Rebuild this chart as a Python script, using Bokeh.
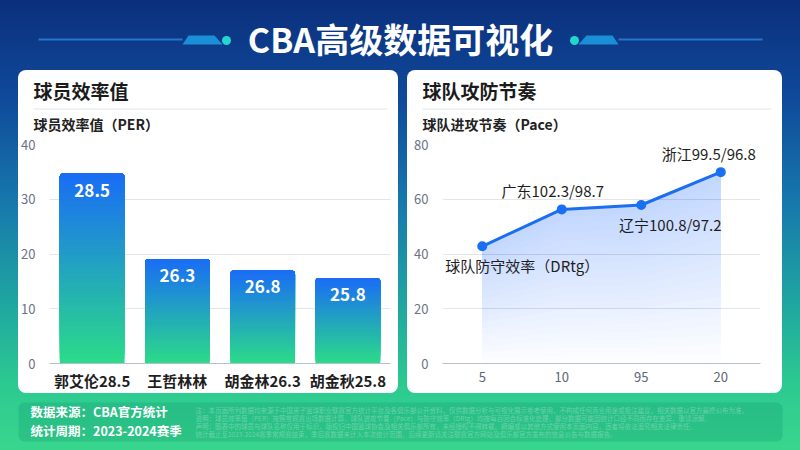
import numpy as np
from bokeh.plotting import figure
from bokeh.models import Range1d, FactorRange, FixedTicker, Spacer, Label
from bokeh.layouts import column, row
from bokeh.embed import file_html
from bokeh.resources import INLINE
from bokeh.core.properties import value

# ---------------- data ----------------
TITLE = "CBA高级数据可视化"
LEFT_TITLE = "球员效率值"
LEFT_SUB = "球员效率值（PER）"
RIGHT_TITLE = "球队攻防节奏"
RIGHT_SUB = "球队进攻节奏（Pace）"

PLAYERS = ["郭艾伦28.5", "王哲林林", "胡金林26.3", "胡金秋25.8"]
PER_BAR = [34.7, 19.1, 17.0, 15.6]
PER_LABELS = ["28.5", "26.3", "26.8", "25.8"]
PER_TICKS = [0, 10, 20, 30, 40]

PACE_X = ["5", "10", "95", "20"]
PACE_Y = [42.8, 56.3, 57.9, 69.9]
PACE_LABELS = ["球队防守效率（DRtg）", "广东102.3/98.7", "辽宁100.8/97.2", "浙江99.5/96.8"]
PACE_TICKS = [0, 20, 40, 60, 80]

FOOT_1 = "数据来源：CBA官方统计"
FOOT_2 = "统计周期：2023-2024赛季"
FINE_PRINT = [
    "注：本页面所列数据均来源于中国男子篮球职业联赛官方统计平台及各俱乐部公开资料，仅供数据分析与可视化展示参考使用，不构成任何商业用途或投注建议，相关数据以官方最终公布为准。",
    "说明：球员效率值（PER）按照常规赛出场数据计算，球队进攻节奏（Pace）与防守效率（DRtg）均按每百回合标准化处理，部分数据可能因统计口径不同而存在差异，敬请谅解。",
    "声明：图表中的球员与球队名称仅用于标识，版权归中国篮球协会及相关俱乐部所有，未经授权不得转载、摘编或以其他方式使用本页面内容，违者将依法追究相关法律责任。",
    "统计截止至2023-2024赛季常规赛结束，季后赛数据未计入本次统计范围，后续更新请关注联赛官方网站及俱乐部官方发布的信息公告与数据报告。",
]

# ---------------- style / layout (not data) ----------------
FONT = "Noto Sans CJK SC"
LABEL_DX = [40, -9, 29, -12]
LABEL_DY = [19, -19, 20, -19]
BLUE = np.array([0x1A, 0x6E, 0xF4])
GREEN = np.array([0x2B, 0xDA, 0x8A])
HEAD_H = 64
CHART_H = 259
TOP_PAD = 10
FRAME_H = 219
TOP_STYLE = {"border-radius": "8px 8px 0 0", "overflow": "hidden", "background-color": "white"}
BOT_STYLE = {"border-radius": "0 0 8px 8px", "overflow": "hidden", "background-color": "white"}


def hexc(c):
    c = np.clip(np.round(c), 0, 255).astype(int)
    return "#%02x%02x%02x" % tuple(c)


def blank(w, h):
    p = figure(width=w, height=h, x_range=Range1d(0, w), y_range=Range1d(h, 0),
               output_backend="svg", toolbar_location=None,
               x_axis_location=None, y_axis_location=None, min_border=0)
    p.grid.visible = False
    p.outline_line_color = None
    p.outline_line_alpha = 0
    p.background_fill_color = None
    p.border_fill_color = None
    return p


def txt(p, x, y, s, size, color, style="normal", align="left", alpha=1.0):
    p.add_layout(Label(x=x, y=y, text=s, text_font=FONT, text_font_size=size,
                       text_color=color, text_font_style=style, text_align=align,
                       text_baseline="middle", text_alpha=alpha))


# ---------------- page header ----------------
hdr = blank(800, 70)
hdr.segment(x0=[38, 618], y0=[39, 39], x1=[182, 762], y1=[39, 39],
            line_color="#2f8fe8", line_width=2, line_alpha=0.7)
hdr.patches(xs=[[182, 188, 214, 222], [578, 586, 612, 618]],
            ys=[[44, 35, 35, 44], [44, 35, 35, 44]],
            fill_color=["#1c98e0", "#1c98e0"], fill_alpha=0.9, line_color=None)
hdr.scatter(x=[226, 574], y=[40, 40], size=9, fill_color="#22d6cf", line_color=None)
txt(hdr, 400, 38, TITLE, "34px", "white", "bold", "center")


# ---------------- card headers ----------------
def card_head(w, title, sub):
    p = blank(w, HEAD_H)
    txt(p, 15, 20, title, "19px", "#1b1b1b", "bold")
    p.segment(x0=[15], y0=[38.5], x1=[w - 11], y1=[38.5], line_color="#e3e6ec", line_width=1)
    txt(p, 15, 53.5, sub, "14px", "#222222", "bold")
    return column(p, styles=TOP_STYLE)


def style_chart(p, ticks, xsize, xcolor, xstyle, standoff):
    p.outline_line_color = None
    p.outline_line_alpha = 0
    p.outline_line_width = 0
    p.background_fill_color = None
    p.border_fill_color = None
    p.xgrid.visible = False
    t = FixedTicker(ticks=ticks)
    p.yaxis.ticker = t
    p.ygrid.ticker = t
    p.ygrid.grid_line_color = "#e2e5ec"
    p.yaxis.axis_line_color = None
    p.yaxis.major_tick_line_color = None
    p.yaxis.minor_tick_line_color = None
    p.yaxis.major_label_standoff = 8
    p.yaxis.major_label_text_font_size = "13px"
    p.yaxis.major_label_text_color = "#6b7385"
    p.xaxis.axis_line_color = "#b8bfcc"
    p.xaxis.major_tick_line_color = None
    p.xaxis.minor_tick_line_color = None
    p.xaxis.major_label_standoff = standoff
    p.xaxis.major_label_text_font_size = xsize
    p.xaxis.major_label_text_color = xcolor
    p.xaxis.major_label_text_font_style = xstyle
    p.axis.major_label_text_font = FONT


# ---------------- left chart: bars ----------------
left = figure(width=380, height=CHART_H, x_range=FactorRange(*PLAYERS), y_range=Range1d(0, 40),
              output_backend="svg", toolbar_location=None,
              min_border_left=31, min_border_right=8, min_border_top=TOP_PAD,
              min_border_bottom=CHART_H - TOP_PAD - FRAME_H)
style_chart(left, PER_TICKS, "15px", "#1e1e1e", "bold", 0)
N = 40
for k in range(N):
    t = k / (N - 1)
    col = hexc(GREEN * (1 - t) + BLUE * t)
    left.vbar(x=PLAYERS, bottom=[h * k / N for h in PER_BAR], top=PER_BAR, width=0.76,
              fill_color=col, line_color=None, border_radius=(4, 4, 0, 0))
left.text(x=PLAYERS, y=PER_BAR, text=PER_LABELS, text_align="center", text_baseline="top",
          y_offset=10, text_color="white", text_font=value(FONT), text_font_size="17px",
          text_font_style="bold")

# ---------------- right chart: line + area ----------------
right = figure(width=375, height=CHART_H, x_range=FactorRange(*PACE_X), y_range=Range1d(0, 80),
               output_backend="svg", toolbar_location=None,
               min_border_left=35, min_border_right=22, min_border_top=TOP_PAD,
               min_border_bottom=CHART_H - TOP_PAD - FRAME_H)
style_chart(right, PACE_TICKS, "13px", "#5d6577", "normal", 2)
NA = 20
for k in range(NA):
    right.varea(x=PACE_X, y1=[v * k / NA for v in PACE_Y], y2=PACE_Y,
                fill_color="#3a86f5", fill_alpha=0.017)
right.line(x=PACE_X, y=PACE_Y, line_color="#1a6ff0", line_width=3)
right.scatter(x=PACE_X, y=PACE_Y, size=10, fill_color="#1a6ff0", line_color=None)
right.text(x=PACE_X, y=PACE_Y, text=PACE_LABELS, x_offset=LABEL_DX, y_offset=LABEL_DY,
           text_align="center", text_baseline="middle", text_color="#1e1e1e",
           text_font=value(FONT), text_font_size="15px")

# ---------------- footer ----------------
foot = blank(800, 450 - 70 - HEAD_H - CHART_H)
foot.quad(left=[18], right=[782], top=[9], bottom=[48], fill_color="#0b8a6a", fill_alpha=0.22,
          line_color=None, border_radius=6)
txt(foot, 30, 18, FOOT_1, "12.5px", "white", "bold")
txt(foot, 30, 37, FOOT_2, "12.5px", "white", "bold")
for i, line in enumerate(FINE_PRINT):
    txt(foot, 195, 16 + 8 * i, line, "6.5px", "white", "normal", "left", 0.3)

heads = row(Spacer(width=18, height=HEAD_H), card_head(380, LEFT_TITLE, LEFT_SUB),
            Spacer(width=9, height=HEAD_H), card_head(375, RIGHT_TITLE, RIGHT_SUB),
            Spacer(width=18, height=HEAD_H))
charts = row(Spacer(width=18, height=CHART_H), column(left, styles=BOT_STYLE),
             Spacer(width=9, height=CHART_H), column(right, styles=BOT_STYLE),
             Spacer(width=18, height=CHART_H))
root = column(hdr, heads, charts, foot, styles={
    "background": "linear-gradient(180deg, #0b2f7c 0%, #0f4a9a 22%, #1778ac 45%, #1fa7a0 68%, #2cc991 85%, #38d68d 100%)"})

open("out.html", "w").write(file_html(root, INLINE))
